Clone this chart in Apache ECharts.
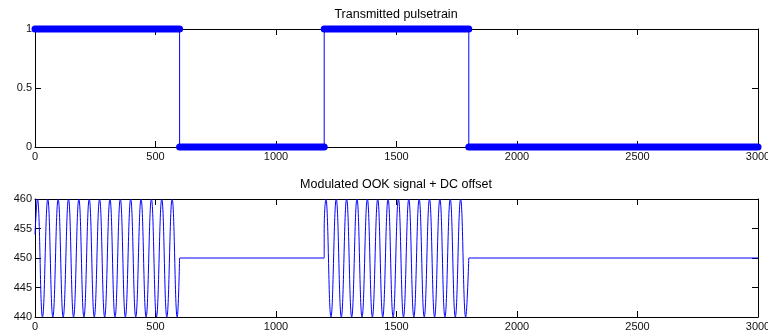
<!DOCTYPE html>
<html>
<head>
<meta charset="utf-8">
<script src="https://cdn.jsdelivr.net/npm/echarts@6/dist/echarts.min.js"></script>
<style>html,body{margin:0;padding:0;background:#fff}#c{width:768px;height:335px}</style>
</head>
<body>
<div id="c"></div>
<script>
// ---- data ----
const titles = ['Transmitted pulsetrain', 'Modulated OOK signal + DC offset'];
const xTickValues = [0, 500, 1000, 1500, 2000, 2500, 3000];
const pulseYTicks = [0, 0.5, 1];
const ookYTicks = [440, 445, 450, 455, 460];

// transmitted pulse train (step outline)
const pulseX = [0, 600, 600, 1200, 1200, 1800, 1800, 3000];
const pulseY = [1, 1, 0, 0, 1, 1, 0, 0];

// modulated OOK signal: peaks / troughs
const ookX = [0, 10, 31, 53, 74, 96, 117, 139, 160, 182, 203, 225, 246, 268, 289, 311, 332, 354, 375, 397, 418, 440, 461, 483, 504, 526, 547, 569, 590, 600,
  1200, 1200, 1207, 1228, 1250, 1271, 1293, 1314, 1336, 1357, 1379, 1400, 1422, 1443, 1465, 1486, 1508, 1529, 1551, 1572, 1594, 1615, 1637, 1658, 1680, 1701, 1723, 1744, 1766, 1787, 1800,
  3000];
const ookY = [454, 460, 440, 460, 440, 460, 440, 460, 440, 460, 440, 460, 440, 460, 440, 460, 440, 460, 440, 460, 440, 460, 440, 460, 440, 460, 440, 460, 440, 450,
  450, 455, 460, 440, 460, 440, 460, 440, 460, 440, 460, 440, 460, 440, 460, 440, 460, 440, 460, 440, 460, 440, 460, 440, 460, 440, 460, 440, 460, 440, 450,
  450];
// carrier "on" intervals and "off" intervals of the OOK signal
const ookOn = [[0, 600], [1200, 1800]];
const ookOff = [[600, 1200], [1800, 3000]];
const ookDC = 450;

// ---- chart ----
const FONT = 'Liberation Sans';
const BLUE = '#0000ff';
const chart = echarts.init(document.getElementById('c'), null, {renderer: 'canvas'});

function xAx(grid, pos, labels) {
  return {
    gridIndex: grid, type: 'value', position: pos,
    min: xTickValues[0], max: xTickValues[xTickValues.length - 1],
    interval: xTickValues[1] - xTickValues[0],
    axisLine: {show: true, onZero: false, lineStyle: {color: '#000', width: 1}},
    axisTick: {show: true, inside: true, length: 6, lineStyle: {color: '#000'}},
    axisLabel: {show: labels, color: '#111', fontSize: 11, fontFamily: FONT, margin: 4,
                formatter: v => String(v)},
    splitLine: {show: false}
  };
}
function yAx(grid, pos, ticks, labels) {
  return {
    gridIndex: grid, type: 'value', position: pos,
    min: ticks[0], max: ticks[ticks.length - 1], interval: ticks[1] - ticks[0],
    axisLine: {show: true, onZero: false, lineStyle: {color: '#000', width: 1}},
    axisTick: {show: true, inside: true, length: 6, lineStyle: {color: '#000'}},
    axisLabel: {show: labels, color: '#111', fontSize: 11, fontFamily: FONT, margin: 3,
                formatter: v => String(v)},
    splitLine: {show: false}
  };
}

const pulseData = pulseX.map((x, i) => [x, pulseY[i]]);
const ookData = ookX.map((x, i) => [x, ookY[i]]);

// thick marker bands along each flat run of the pulse train
const bandSeries = [];
for (let i = 0; i < pulseX.length - 1; i++) {
  if (pulseY[i] === pulseY[i + 1] && pulseX[i] !== pulseX[i + 1]) {
    bandSeries.push({
      type: 'line', xAxisIndex: 0, yAxisIndex: 0, clip: false, symbol: 'none', silent: true,
      data: [[pulseX[i], pulseY[i]], [pulseX[i + 1], pulseY[i + 1]]],
      lineStyle: {color: BLUE, width: 7, cap: 'round'}, z: 3
    });
  }
}

const ookSeries = [];
ookOn.forEach(([a, b]) => ookSeries.push({
  type: 'line', xAxisIndex: 2, yAxisIndex: 2, symbol: 'none', smooth: 0.45,
  data: ookData.filter(p => p[0] >= a && p[0] <= b),
  lineStyle: {color: BLUE, width: 1}, z: 2
}));
ookOff.forEach(([a, b]) => ookSeries.push({
  type: 'line', xAxisIndex: 2, yAxisIndex: 2, symbol: 'none',
  data: ookData.filter(p => p[0] >= a && p[0] <= b && p[1] === ookDC),
  lineStyle: {color: BLUE, width: 1}, z: 2
}));

chart.setOption({
  animation: false,
  backgroundColor: '#fff',
  title: [
    {text: titles[0], left: 396, top: 8, textAlign: 'center', padding: 0,
     textStyle: {fontSize: 12.5, fontWeight: 'normal', color: '#000', fontFamily: FONT}},
    {text: titles[1], left: 396, top: 178, textAlign: 'center', padding: 0,
     textStyle: {fontSize: 12.5, fontWeight: 'normal', color: '#000', fontFamily: FONT}}
  ],
  grid: [
    {left: 35, right: 10, top: 29, height: 118, containLabel: false, outerBoundsMode: 'none'},
    {left: 35, right: 10, top: 199, height: 118, containLabel: false, outerBoundsMode: 'none'}
  ],
  xAxis: [xAx(0, 'bottom', true), xAx(0, 'top', false), xAx(1, 'bottom', true), xAx(1, 'top', false)],
  yAxis: [
    yAx(0, 'left', pulseYTicks, true), yAx(0, 'right', pulseYTicks, false),
    yAx(1, 'left', ookYTicks, true), yAx(1, 'right', ookYTicks, false)
  ],
  series: [
    {type: 'line', xAxisIndex: 0, yAxisIndex: 0, symbol: 'none', data: pulseData,
     lineStyle: {color: BLUE, width: 1}, z: 2},
    ...bandSeries,
    ...ookSeries
  ]
});
</script>
</body>
</html>
